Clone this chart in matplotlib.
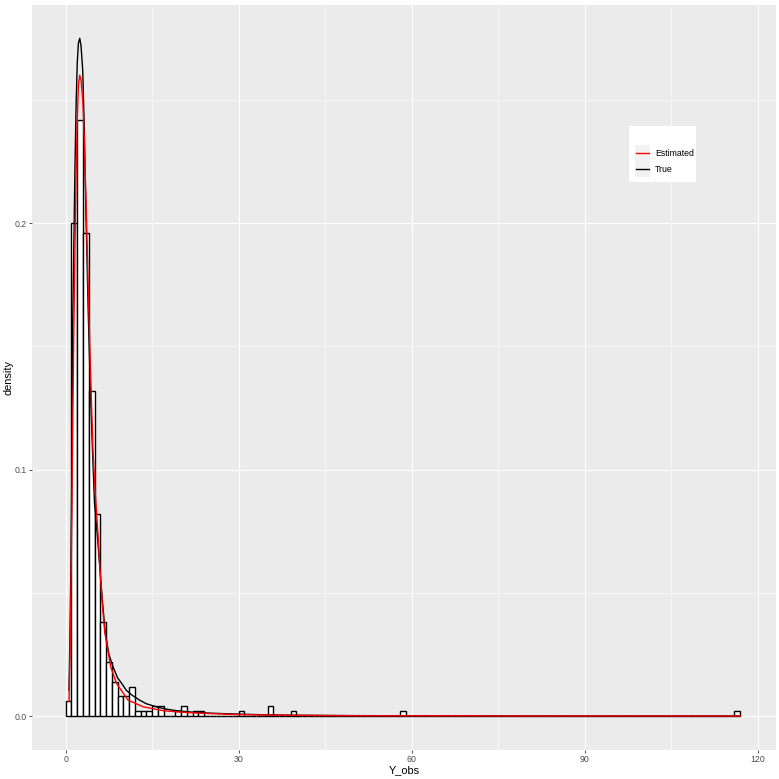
import matplotlib
matplotlib.use("Agg")
import matplotlib.pyplot as plt
from matplotlib.lines import Line2D
from matplotlib.patches import Rectangle
import numpy as np

# histogram of Y_obs (binwidth 1, bins starting at 0), density per bin
n_bins = 117
bar_bins = [0, 1, 2, 3, 4, 5, 6, 7, 8, 9, 10, 11, 12, 13, 14, 15, 16,
            19, 20, 22, 23, 30, 35, 39, 58, 116]
bar_density = [0.006, 0.200, 0.242, 0.196, 0.132, 0.082, 0.038, 0.022, 0.014,
               0.008, 0.008, 0.012, 0.002, 0.002, 0.002, 0.004, 0.004,
               0.002, 0.004, 0.002, 0.002, 0.002, 0.004, 0.002, 0.002, 0.002]

# density curves
true_x = [0.57, 0.75, 0.9, 1.05, 1.2, 1.4, 1.6, 1.8, 2.0, 2.2, 2.43, 2.65,
          2.95, 3.2, 3.5, 3.9, 4.3, 4.65, 5.0, 5.5, 5.9, 6.35, 6.85, 7.5,
          8.2, 9.0, 9.7, 10.5, 11.5, 12.8, 14.0, 15.7, 17.5, 19.2, 22, 25,
          30, 35, 40, 50, 60, 75, 90, 105, 117]
true_y = [0.0105, 0.035, 0.062, 0.095, 0.158, 0.19, 0.222, 0.248, 0.265,
          0.273, 0.275, 0.272, 0.262, 0.24, 0.205, 0.164, 0.131, 0.107,
          0.086, 0.073, 0.0606, 0.047, 0.034, 0.025, 0.02, 0.0155, 0.0133,
          0.0105, 0.0085, 0.0065, 0.005, 0.0038, 0.0028, 0.0022, 0.0016,
          0.0012, 0.0008, 0.0005, 0.00035, 0.0002, 0.00012, 0.00007,
          0.00004, 0.00003, 0.00002]

est_x = [0.57, 0.75, 0.9, 1.05, 1.2, 1.4, 1.6, 1.8, 2.0, 2.2, 2.43, 2.65,
         2.95, 3.2, 3.5, 3.9, 4.3, 4.74, 5.2, 5.6, 5.9, 6.3, 6.77, 7.8, 8.8,
         10.8, 13.4, 16.9, 20, 23, 30, 40, 50, 60, 80, 117]
est_y = [0.006, 0.026, 0.05, 0.08, 0.115, 0.155, 0.19, 0.22, 0.242, 0.256,
         0.26, 0.258, 0.25, 0.235, 0.21, 0.174, 0.14, 0.107, 0.0876, 0.074,
         0.061, 0.047, 0.034, 0.02, 0.0133, 0.0065, 0.0038, 0.0022, 0.0016,
         0.0012, 0.0006, 0.0003, 0.00015, 0.0001, 0.00005, 0.00002]

x_ticks = [0, 30, 60, 90, 120]
y_ticks = [0.0, 0.1, 0.2]
y_tick_labels = ["0.0", "0.1", "0.2"]

plt.rcParams['font.family'] = ['Liberation Sans', 'DejaVu Sans']

W = 779
fig = plt.figure(figsize=(W / 100, W / 100), dpi=100)
ax = fig.add_axes([32 / W, (W - 750) / W, 744 / W, 745.5 / W])
ax.set_facecolor('#EBEBEB')
for s in ax.spines.values():
    s.set_visible(False)

# grid
ax.set_axisbelow(True)
ax.set_xticks(x_ticks)
ax.set_yticks(y_ticks)
ax.set_xticks([15, 45, 75, 105], minor=True)
ax.set_yticks([0.05, 0.15, 0.25], minor=True)
ax.grid(True, which='major', color='white', lw=0.8)
ax.grid(True, which='minor', color='white', lw=0.4)
ax.tick_params(which='minor', length=0)
ax.tick_params(which='major', length=2.0, width=0.6, color='#333333',
               labelsize=6.3, labelcolor='#4D4D4D', pad=1.5)
ax.set_yticklabels(y_tick_labels)

# histogram
density = np.zeros(n_bins)
density[bar_bins] = bar_density
ax.bar(np.arange(n_bins), density, width=1, align='edge', facecolor='white',
       edgecolor='black', linewidth=1.0)

ax.plot(true_x, true_y, color='black', lw=1.0)
ax.plot(est_x, est_y, color='red', lw=1.0)

ax.set_xlim(-5.85, 123.2)
ax.set_ylim(-0.01375, 0.2887)
ax.set_xlabel('Y_obs', fontsize=7.9, labelpad=1)
ax.set_ylabel('density', fontsize=7.9, labelpad=1)

# legend drawn by hand, ggplot style
def fx(p):
    return p / W

def fy(p):
    return 1 - p / W

fig.patches.append(Rectangle((fx(629), fy(182)), fx(67), 56 / W,
                             transform=fig.transFigure, facecolor='white',
                             edgecolor='none', zorder=5))
labels = ['Estimated', 'True']
colors = ['red', 'black']
for i, (lab, col) in enumerate(zip(labels, colors)):
    top = 145 + i * 16
    fig.patches.append(Rectangle((fx(634.5), fy(top + 16)), 15.5 / W, 16 / W,
                                 transform=fig.transFigure,
                                 facecolor='#F2F2F2', edgecolor='none',
                                 zorder=6))
    yc = fy(top + 8)
    fig.lines.append(Line2D([fx(636), fx(649)], [yc, yc], color=col, lw=1.0,
                            transform=fig.transFigure, zorder=7))
    fig.text(fx(655), yc, lab, fontsize=6.3, va='center', ha='left',
             color='black', zorder=8)

fig.savefig('out.png', dpi=100)
